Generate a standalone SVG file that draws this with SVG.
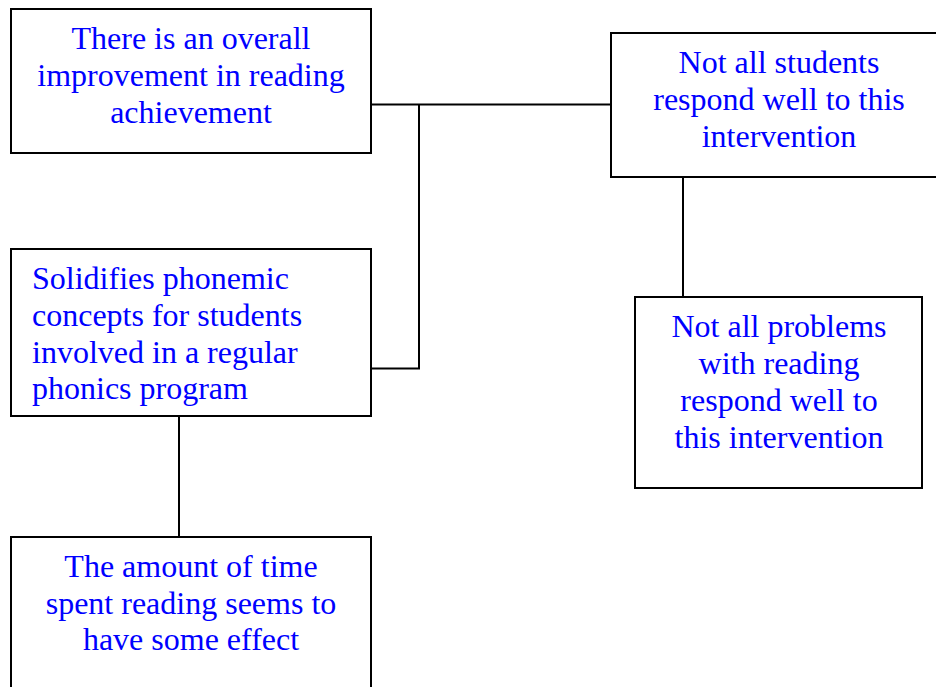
<svg xmlns="http://www.w3.org/2000/svg" width="936" height="687" viewBox="0 0 936 687">
<style>
.box{fill:#fff;stroke:#000;stroke-width:2}
.t{font-family:"Liberation Serif","Times New Roman",serif;font-size:32px;fill:#0000ff}
.c{text-anchor:middle}
.conn{fill:none;stroke:#000;stroke-width:2}
</style>
<rect width="936" height="687" fill="#fff"/>
<g id="connectors">
<path class="conn" d="M371 104.5H611"/>
<path class="conn" d="M419 104.5V368.5H371"/>
<path class="conn" d="M683 177V297"/>
<path class="conn" d="M179 416V537"/>
</g>
<g id="n1">
<rect class="box" x="11" y="9" width="360" height="144"/>
<text class="t c" x="191" y="49">There is an overall</text>
<text class="t c" x="191" y="86">improvement in reading</text>
<text class="t c" x="191" y="123">achievement</text>
</g>
<g id="n2">
<rect class="box" x="611" y="33" width="340" height="144"/>
<text class="t c" x="779" y="73">Not all students</text>
<text class="t c" x="779" y="110">respond well to this</text>
<text class="t c" x="779" y="147">intervention</text>
</g>
<g id="n3">
<rect class="box" x="11" y="249" width="360" height="167"/>
<text class="t" x="32" y="289">Solidifies phonemic</text>
<text class="t" x="32" y="326">concepts for students</text>
<text class="t" x="32" y="363">involved in a regular</text>
<text class="t" x="32" y="399">phonics program</text>
</g>
<g id="n4">
<rect class="box" x="635" y="297" width="287" height="191"/>
<text class="t c" x="779" y="337">Not all problems</text>
<text class="t c" x="779" y="374">with reading</text>
<text class="t c" x="779" y="411">respond well to</text>
<text class="t c" x="779" y="448">this intervention</text>
</g>
<g id="n5">
<rect class="box" x="11" y="537" width="360" height="170"/>
<text class="t c" x="191" y="577">The amount of time</text>
<text class="t c" x="191" y="614">spent reading seems to</text>
<text class="t c" x="191" y="650">have some effect</text>
</g>
</svg>
